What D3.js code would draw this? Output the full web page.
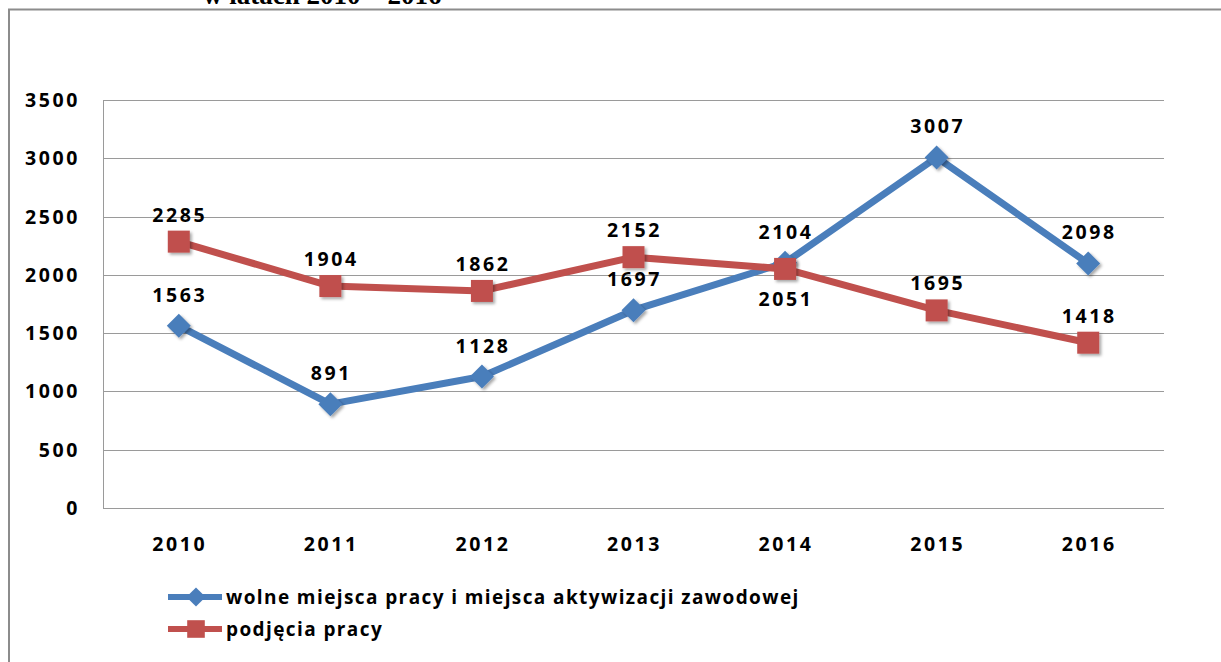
<!DOCTYPE html>
<html>
<head>
<meta charset="utf-8">
<script src="https://cdn.jsdelivr.net/npm/d3@7"></script>
<style>
  body { margin: 0; background: #fff; }
  svg { display: block; }
  .lbl { font-family: "Open Sans", sans-serif; font-weight: 700; font-size: 19.5px; letter-spacing: 2.6px; fill: #000; }
</style>
</head>
<body>
<script>
var years = ['2010', '2011', '2012', '2013', '2014', '2015', '2016'];
var wolne = [1563, 891, 1128, 1697, 2104, 3007, 2098];
var podjecia = [2285, 1904, 1862, 2152, 2051, 1695, 1418];
var yTicks = [0, 500, 1000, 1500, 2000, 2500, 3000, 3500];
var seriesNames = ['wolne miejsca pracy i miejsca aktywizacji zawodowej', 'podjęcia pracy'];

var width = 1221, height = 662;
var plotLeft = 103, plotRight = 1164, plotTop = 100, plotBottom = 508;

var svg = d3.select('body').append('svg')
    .attr('width', width)
    .attr('height', height);

// drop shadow for markers
var f = svg.append('defs').append('filter')
    .attr('id', 'shadow')
    .attr('x', '-50%').attr('y', '-50%')
    .attr('width', '200%').attr('height', '200%');
f.append('feDropShadow')
    .attr('dx', 2).attr('dy', 2)
    .attr('stdDeviation', 1.5)
    .attr('flood-color', '#000')
    .attr('flood-opacity', 0.35);

// clipped title from the page above
svg.append('text')
    .attr('x', 203).attr('y', 4)
    .style('font-family', '"Liberation Serif", serif')
    .style('font-size', '27px')
    .style('font-weight', 'bold')
    .text('w latach 2010 – 2016');

// outer frame
svg.append('path')
    .attr('d', 'M9,662V9.5H1221')
    .attr('fill', 'none')
    .attr('stroke', '#8c8c8c')
    .attr('stroke-width', 2);

var x = d3.scaleBand().domain(years).range([plotLeft, plotRight]);
var y = d3.scaleLinear().domain([0, 3500]).range([plotBottom, plotTop]);

// gridlines
svg.append('g')
    .selectAll('line')
    .data(yTicks)
    .join('line')
    .attr('x1', plotLeft).attr('x2', plotRight)
    .attr('y1', function(d){ return Math.round(y(d)) + 0.5; })
    .attr('y2', function(d){ return Math.round(y(d)) + 0.5; })
    .attr('stroke', '#9a9a9a')
    .attr('stroke-width', 1);

svg.append('line')
    .attr('x1', plotLeft + 0.5).attr('x2', plotLeft + 0.5)
    .attr('y1', y(3500)).attr('y2', y(0))
    .attr('stroke', '#9a9a9a');

// y labels
svg.append('g')
    .selectAll('text')
    .data(yTicks)
    .join('text')
    .attr('class', 'lbl')
    .attr('x', 80)
    .attr('y', function(d){ return y(d) + 7; })
    .attr('text-anchor', 'end')
    .text(function(d){ return d; });

// x labels
svg.append('g')
    .selectAll('text')
    .data(years)
    .join('text')
    .attr('class', 'lbl')
    .attr('x', function(d){ return x(d) + x.bandwidth() / 2 + 1; })
    .attr('y', 551)
    .attr('text-anchor', 'middle')
    .text(function(d){ return d; });

var cx = function(d, i){ return x(years[i]) + x.bandwidth() / 2; };
var line = d3.line().x(cx).y(function(d){ return y(d); });

function drawSeries(values, color, marker, labelDy){
    svg.append('path')
        .datum(values)
        .attr('d', line)
        .attr('fill', 'none')
        .attr('stroke', color)
        .attr('stroke-width', 7)
        .attr('stroke-linejoin', 'round');

    svg.append('g')
        .selectAll('path')
        .data(values)
        .join('path')
        .attr('d', marker)
        .attr('transform', function(d, i){ return 'translate(' + cx(d, i) + ',' + y(d) + ')'; })
        .attr('fill', color)
        .attr('filter', 'url(#shadow)');

    svg.append('g')
        .selectAll('text')
        .data(values)
        .join('text')
        .attr('class', 'lbl')
        .attr('x', function(d, i){ return cx(d, i) + 1; })
        .attr('y', function(d, i){ return y(d) + labelDy(i); })
        .attr('text-anchor', 'middle')
        .text(function(d){ return d; });
}

var diamond = 'M0,-12L12,0L0,12L-12,0Z';
var square = 'M-11,-11H11V11H-11Z';

drawSeries(wolne, '#4a7ebb', diamond, function(){ return -24; });
drawSeries(podjecia, '#c0504d', square, function(i){ return years[i] === '2014' ? 37 : -20; });

// legend
var legend = svg.append('g');
var legendRows = [
    { name: seriesNames[0], color: '#4a7ebb', marker: diamond, y: 597 },
    { name: seriesNames[1], color: '#c0504d', marker: square, y: 629 }
];
legendRows.forEach(function(r){
    legend.append('line')
        .attr('x1', 168).attr('x2', 222)
        .attr('y1', r.y).attr('y2', r.y)
        .attr('stroke', r.color)
        .attr('stroke-width', 6);
    legend.append('path')
        .attr('d', r.marker)
        .attr('transform', 'translate(196,' + r.y + ') scale(0.8)')
        .attr('fill', r.color);
    legend.append('text')
        .attr('class', 'lbl')
        .attr('x', 226)
        .attr('y', r.y + 7)
        .style('letter-spacing', '1.4px')
        .style('font-size', '19px')
        .text(r.name);
});
</script>
</body>
</html>
